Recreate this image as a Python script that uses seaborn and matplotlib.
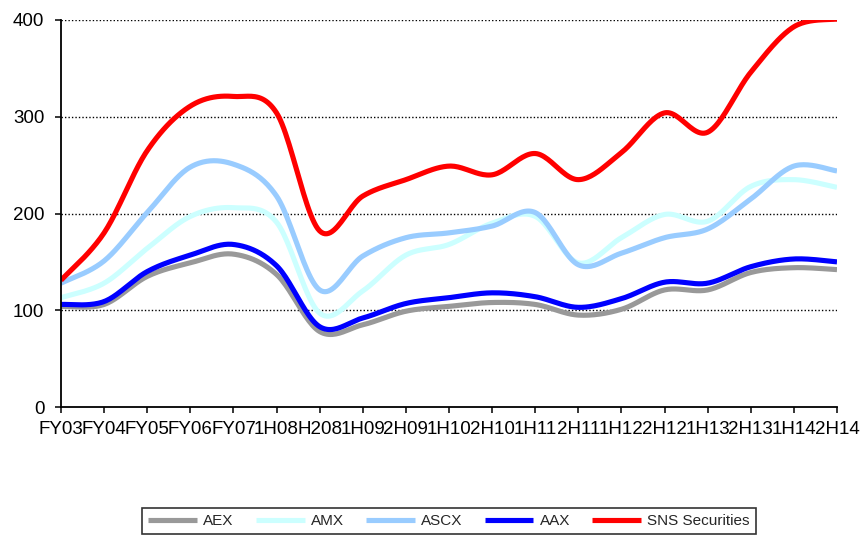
import numpy as np
import pandas as pd
import matplotlib
matplotlib.use("Agg")
import matplotlib.pyplot as plt
import seaborn as sns

periods = ["FY03", "FY04", "FY05", "FY06", "FY07", "1H08", "H208", "1H09", "2H09",
           "1H10", "2H10", "1H11", "2H11", "1H12", "2H12", "1H13", "2H13", "1H14", "2H14"]

aex = [104, 106, 135, 149, 158, 137, 78, 85, 99, 104, 108, 106, 95, 101, 121, 121, 139, 144, 142]
amx = [113, 128, 164, 197, 206, 191, 97, 120, 157, 168, 190, 197, 149, 175, 199, 192, 228, 235, 227]
ascx = [128, 151, 201, 248, 251, 218, 121, 156, 175, 180, 187, 201, 147, 159, 175, 184, 215, 249, 244]
aax = [106, 109, 140, 157, 168, 146, 83, 92, 107, 113, 118, 114, 103, 112, 129, 128, 145, 153, 150]
sns_sec = [131, 180, 265, 311, 321, 304, 182, 218, 235, 249, 240, 262, 235, 263, 304, 284, 346, 393, 401]

series = [("AEX", aex, "#999999"),
          ("AMX", amx, "#CCFFFF"),
          ("ASCX", ascx, "#99CCFF"),
          ("AAX", aax, "#0000FF"),
          ("SNS Securities", sns_sec, "#FF0000")]


def smooth(values, steps=24):
    """Catmull-Rom (Bezier) smoothed path through the points, like a smoothed line chart."""
    y = np.asarray(values, dtype=float)
    x = np.arange(len(y), dtype=float)
    px = np.concatenate([[x[0]], x, [x[-1]]])
    py = np.concatenate([[y[0]], y, [y[-1]]])
    xs, ys = [], []
    t = np.linspace(0, 1, steps, endpoint=False)
    for i in range(1, len(px) - 2):
        p0, p1, p2, p3 = (np.array([px[j], py[j]]) for j in (i - 1, i, i + 1, i + 2))
        c1 = p1 + (p2 - p0) / 6.0
        c2 = p2 - (p3 - p1) / 6.0
        b = ((1 - t) ** 3)[:, None] * p1 + (3 * (1 - t) ** 2 * t)[:, None] * c1 \
            + (3 * (1 - t) * t ** 2)[:, None] * c2 + (t ** 3)[:, None] * p2
        xs.extend(b[:, 0]); ys.extend(b[:, 1])
    xs.append(x[-1]); ys.append(y[-1])
    return np.array(xs), np.array(ys)


sns.set_theme(style="white")
plt.rcParams["font.family"] = ["Liberation Sans", "DejaVu Sans"]

fig = plt.figure(figsize=(8.62, 5.37), dpi=100)
ax = fig.add_axes([61 / 862, 1 - 407 / 537, (837 - 61) / 862, (407 - 20) / 537])

handles = []
for name, vals, color in series:
    sx, sy = smooth(vals)
    df = pd.DataFrame({"x": sx, "y": sy})
    sns.lineplot(data=df, x="x", y="y", ax=ax, color=color, lw=3.7, sort=False,
                 estimator=None, label=name, legend=False, solid_capstyle="butt")
    handles.append(ax.lines[-1])

ax.set_xlim(0, len(periods) - 1)
ax.set_ylim(0, 400)
ax.set_xticks(range(len(periods)))
ax.set_xticklabels(periods)
ax.set_yticks([0, 100, 200, 300, 400])
ax.set_xlabel("")
ax.set_ylabel("")

for yv in [100, 200, 300, 400]:
    ax.axhline(yv, color="black", lw=1.0, ls=(0, (1, 1.5)), zorder=0)

for s in ["top", "right"]:
    ax.spines[s].set_visible(False)
for s in ["left", "bottom"]:
    ax.spines[s].set_color("black")
    ax.spines[s].set_linewidth(1.3)

ax.tick_params(axis="x", direction="out", length=4, width=1.1, color="black",
               labelsize=13.5, pad=6, bottom=True)
ax.tick_params(axis="y", direction="out", length=4, width=1.1, color="black",
               labelsize=13.5, pad=8, left=True)
for lbl in ax.get_xticklabels() + ax.get_yticklabels():
    lbl.set_color("black")

leg = fig.legend(handles=handles, labels=[s[0] for s in series], loc="center",
                 bbox_to_anchor=(449 / 862, 1 - 521 / 537), ncol=5, fontsize=11,
                 frameon=True, fancybox=False, edgecolor="black", handlelength=3.2,
                 handletextpad=0.4, columnspacing=1.45, borderpad=0.4)
leg.get_frame().set_linewidth(1.2)

fig.savefig("out.png", dpi=100)
